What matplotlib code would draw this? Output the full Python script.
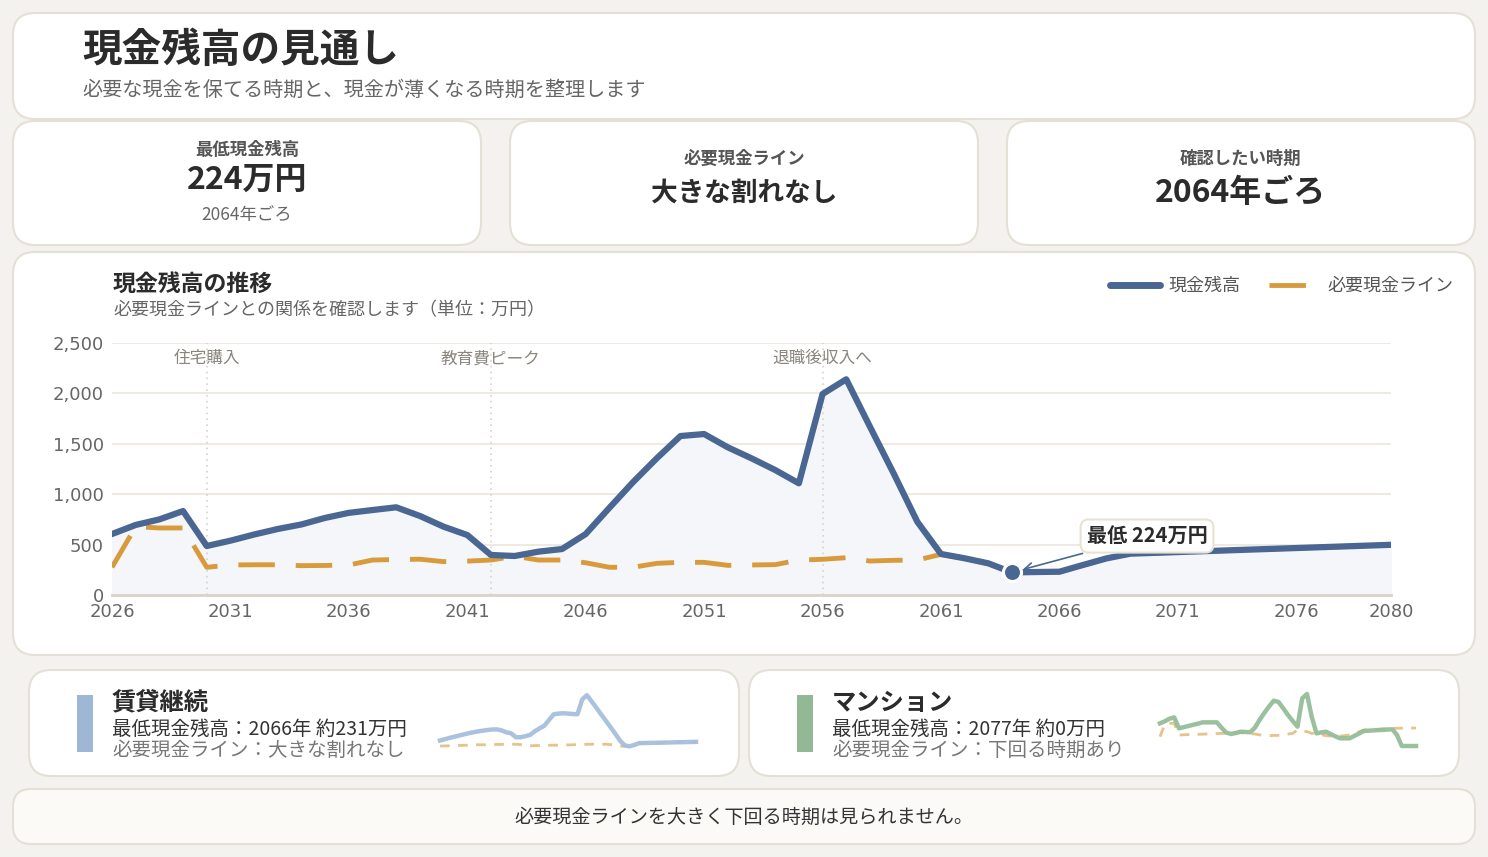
import matplotlib
matplotlib.use("Agg")
import matplotlib.pyplot as plt
from matplotlib.patches import FancyBboxPatch
from matplotlib.lines import Line2D

JP = ["Noto Sans CJK JP", "DejaVu Sans"]
plt.rcParams["font.family"] = JP

# ---- data (万円) ----
years = list(range(2026, 2081))
cash = [605, 695, 750, 833, 486, 539, 600, 655, 700, 765,
        815, 843, 870, 784, 678, 595, 397, 387, 430, 456,
        605, 865, 1120, 1356, 1577, 1597, 1465, 1356, 1240, 1108,
        1994, 2140, 1670, 1207, 727, 407, 364, 314, 224, 228,
        231, 298, 364, 410, 418, 426, 434, 442, 450, 458,
        466, 474, 482, 490, 498]
required = [275, 678, 665, 665, 275, 298, 300, 300, 291, 293,
            298, 347, 352, 355, 331, 336, 347, 385, 347, 347,
            320, 275, 275, 314, 324, 324, 294, 298, 301, 347,
            354, 370, 337, 344, 347, 403, 362, 312, 224, 227,
            230, 296, 362, 408, 416, 424, 432, 440, 448, 456,
            464, 472, 480, 488, 496]

rent_cash = [431, 475, 520, 560, 601, 640, 680, 714, 745, 770,
             794, 810, 816, 780, 714, 680, 544, 544, 580, 624,
             750, 850, 941, 1140, 1338, 1360, 1372, 1360, 1345, 1338,
             1848, 1995, 1780, 1560, 1330, 1110, 884, 660, 420, 261,
             231, 280, 340, 345, 348, 351, 355, 358, 362, 366,
             370, 373, 377, 381, 385]
rent_req = [240, 245, 250, 255, 260, 265, 270, 280, 285, 283,
            285, 290, 295, 298, 300, 305, 300, 290, 265, 250,
            255, 260, 265, 268, 270, 272, 275, 280, 285, 290,
            295, 300, 305, 310, 305, 300, 290, 270, 240, 230,
            231, 280, 340, 345, 348, 351, 355, 358, 362, 366,
            370, 373, 377, 381, 385]

condo_cash = [872, 950, 1050, 1100, 680, 725, 769, 815, 860, 910,
              910, 910, 910, 700, 513, 462, 500, 551, 540, 526,
              700, 1000, 1270, 1520, 1744, 1692, 1450, 1192, 960, 744,
              1833, 2000, 1128, 487, 520, 551, 460, 370, 295, 295,
              295, 390, 480, 577, 590, 600, 610, 620, 635, 641,
              423, 0, 0, 0, 0]
condo_req = [359, 840, 872, 870, 423, 430, 440, 445, 450, 455,
             462, 470, 478, 485, 487, 495, 505, 513, 490, 470,
             462, 430, 397, 400, 405, 410, 435, 460, 487, 615,
             580, 551, 487, 460, 430, 400, 380, 359, 380, 400,
             423, 480, 550, 615, 625, 635, 645, 655, 665, 679,
             682, 685, 688, 690, 692]

events = [(2030, "住宅購入"), (2042, "教育費ピーク"), (2056, "退職後収入へ")]
min_year, min_value = 2064, 224
xticks = [2026, 2031, 2036, 2041, 2046, 2051, 2056, 2061, 2066, 2071, 2076, 2080]
yticks = [0, 500, 1000, 1500, 2000, 2500]

BLUE = "#4a6793"
ORANGE = "#d89b3c"
BG = "#f4f2ee"
EDGE = "#e5e0d6"
DASH = (7.5, 4.3)

W, H = 1488, 857
fig = plt.figure(figsize=(W / 100, H / 100), dpi=100, facecolor=BG)

# overlay in pixel coordinates for cards and texts
bg = fig.add_axes([0, 0, 1, 1], zorder=0)
bg.set_xlim(0, W)
bg.set_ylim(H, 0)
bg.axis("off")


def card(x0, y0, x1, y1, face="white", r=22):
    bg.add_patch(FancyBboxPatch((x0, y0), x1 - x0, y1 - y0,
                                boxstyle=f"round,pad=0,rounding_size={r}",
                                fc=face, ec=EDGE, lw=1.5))


def txt(x, y, s, **kw):
    # CJK glyphs sit a little high with va=center, nudge down
    bg.text(x, y + 2, s, va="center", **kw)


def px_axes(x0, y0, x1, y1, **kw):
    return fig.add_axes([x0 / W, 1 - y1 / H, (x1 - x0) / W, (y1 - y0) / H], **kw)


# header
card(13, 13, 1475, 119)
txt(82, 48, "現金残高の見通し", fontsize=28.5, fontweight="bold", color="#2b2b2b")
txt(82, 88, "必要な現金を保てる時期と、現金が薄くなる時期を整理します", fontsize=14.5, color="#666666")

# KPI cards
kpis = [
    (13, 481, "最低現金残高", "224万円", "2064年ごろ"),
    (510, 978, "必要現金ライン", "大きな割れなし", None),
    (1007, 1475, "確認したい時期", "2064年ごろ", None),
]
for x0, x1, label, value, sub in kpis:
    card(x0, 121, x1, 245)
    cx = (x0 + x1) / 2
    if sub:
        txt(cx, 148, label, fontsize=12.5, fontweight="bold", color="#555555", ha="center")
        txt(cx, 178, value, fontsize=23, fontweight="bold", color="#2b2b2b", ha="center")
        txt(cx, 213, sub, fontsize=12.5, color="#666666", ha="center")
    else:
        txt(cx, 157, label, fontsize=12.5, fontweight="bold", color="#555555", ha="center")
        txt(cx, 191, value, fontsize=23 if value[0].isdigit() else 19.2,
            fontweight="bold", color="#2b2b2b", ha="center")

# main chart card
card(13, 252, 1475, 655)
txt(113, 283, "現金残高の推移", fontsize=16.5, fontweight="bold", color="#2b2b2b")
txt(113, 308, "必要現金ラインとの関係を確認します（単位：万円）", fontsize=13, color="#666666")

ax = px_axes(112, 343, 1391, 595, zorder=2)
ax.set_facecolor("none")
ax.fill_between(years, cash, 0, color="#f4f6f9", zorder=1)
ax.plot(years, required, color=ORANGE, lw=3.5, dashes=DASH, zorder=3)
ax.plot(years, cash, color=BLUE, lw=4.5, solid_joinstyle="round", zorder=4)
ax.plot(min_year, min_value, "o", ms=13, mfc=BLUE, mec="white", mew=2.2, zorder=6, clip_on=False)
ax.annotate(f"最低 {min_value}万円", xy=(min_year, min_value), xytext=(2069.7, 585),
            fontsize=14.5, fontweight="bold", color="#2b2b2b", ha="center", va="center",
            bbox=dict(boxstyle="round,pad=0.3,rounding_size=0.4", fc="white", ec="#e8e2d5", lw=1.5),
            arrowprops=dict(arrowstyle="->", color=BLUE, lw=1.2, shrinkB=8), zorder=7)
for yr, lab in events:
    ax.axvline(yr, color="#d8d3ca", lw=1.2, ls=(0, (1, 2.5)), zorder=2)
    ax.text(yr, 2345, lab, fontsize=12, color="#8a857d", ha="center", va="center")

ax.set_xlim(2026, 2080)
ax.set_ylim(0, 2500)
ax.set_xticks(xticks)
ax.set_yticks(yticks)
ax.set_yticklabels([f"{v:,}" for v in yticks])
ax.grid(axis="y", color="#ebe6dd", lw=1.2)
ax.set_axisbelow(True)
for s in ["top", "right", "left"]:
    ax.spines[s].set_visible(False)
ax.spines["bottom"].set_color("#d9d3c8")
ax.spines["bottom"].set_linewidth(2)
ax.tick_params(length=0, labelsize=13, colors="#666666", pad=6)
for t in ax.get_xticklabels() + ax.get_yticklabels():
    t.set_fontfamily("DejaVu Sans")

handles = [Line2D([], [], color=BLUE, lw=5, solid_capstyle="round"),
           Line2D([], [], color=ORANGE, lw=3.5, dashes=DASH)]
leg = fig.legend(handles, ["現金残高", "必要現金ライン"], loc="center right",
                 bbox_to_anchor=(1470 / W, 1 - 286 / H), ncol=2, frameon=False,
                 fontsize=13, handlelength=2.8, columnspacing=1.6, handletextpad=0.45)
for t in leg.get_texts():
    t.set_color("#555555")

# scenario cards
scen = [
    (29, 739, "#9db7d5", "賃貸継続", "最低現金残高：2066年 約231万円", "必要現金ライン：大きな割れなし",
     rent_cash, rent_req, "#a6bfdc", (440, 691, 696, 753), 2140),
    (749, 1459, "#92b896", "マンション", "最低現金残高：2077年 約0万円", "必要現金ライン：下回る時期あり",
     condo_cash, condo_req, "#95bd99", (1160, 694, 1416, 746), 2000),
]
for x0, x1, col, title, l1, l2, sc, sr, lc, box, ymax in scen:
    card(x0, 670, x1, 776)
    bg.add_patch(plt.Rectangle((x0 + 48, 695), 16, 57, color=col, lw=0))
    txt(x0 + 83, 701, title, fontsize=17.5, fontweight="bold", color="#2b2b2b")
    txt(x0 + 83, 727, l1, fontsize=14, color="#333333")
    txt(x0 + 83, 748, l2, fontsize=14, color="#777777")
    sax = px_axes(*box, zorder=2)
    sax.axis("off")
    sax.plot(years, sr, color="#e5bc7d", lw=2, dashes=(3.5, 3), alpha=0.9, clip_on=False)
    sax.plot(years, sc, color=lc, lw=3.2, clip_on=False, alpha=0.95)
    sax.set_xlim(2026, 2080)
    sax.set_ylim(0, ymax)

# footer
card(13, 789, 1475, 844, face="#fbfaf7", r=18)
txt(744, 815, "必要現金ラインを大きく下回る時期は見られません。", fontsize=13.8, color="#333333", ha="center")

fig.savefig("out.png", dpi=100, facecolor=BG)
